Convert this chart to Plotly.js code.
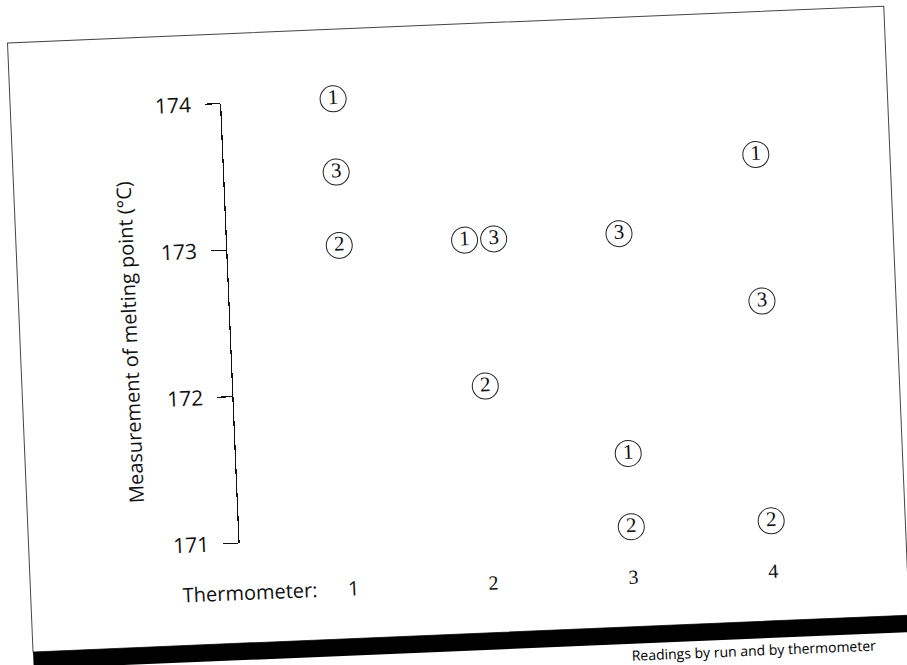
<!DOCTYPE html>
<html>
<head>
<meta charset="utf-8">
<script src="https://cdn.plot.ly/plotly-3.0.1.min.js"></script>
<style>
  html, body { margin:0; padding:0; background:#fff; overflow:hidden; width:907px; height:665px; }
  #plot { position:absolute; left:-27px; top:-28px; width:961px; height:721px; transform:rotate(-2.4deg); transform-origin:50% 50%; }
</style>
</head>
<body>
<div id="plot"></div>
<script>
// ---- data ----
const thermometers = [1, 2, 3, 4];
const thermometerLabels = ['1', '2', '3', '4'];
const runLabels = ['1', '2', '3'];
const run1 = [174.0, 173.0, 171.5, 173.5];
const run2 = [173.0, 172.0, 171.0, 171.0];
const run3 = [173.5, 173.0, 173.0, 172.5];
const yTicks = [171, 172, 173, 174];
const yTitle = 'Measurement of melting point (°C)';
const xLabel = 'Thermometer:';
const caption = 'Readings by run and by thermometer';

// ---- style constants ----
const SANS = 'Open Sans, sans-serif';
const SERIF = 'Liberation Serif, Times New Roman, serif';
const DODGE = 0.104; // horizontal spread for coincident values

const runs = [run1, run2, run3];

// dodge coincident values at the same thermometer
const offsets = runs.map(() => thermometers.map(() => 0));
thermometers.forEach((t, i) => {
  const groups = {};
  runs.forEach((r, k) => { (groups[r[i]] = groups[r[i]] || []).push(k); });
  Object.values(groups).forEach(ks => {
    if (ks.length > 1) ks.forEach((k, j) => { offsets[k][i] = (j - (ks.length - 1) / 2) * 2 * DODGE; });
  });
});

const traces = runs.map((r, k) => ({
  type: 'scatter',
  mode: 'markers+text',
  x: thermometers.map((t, i) => t + offsets[k][i]),
  y: r,
  text: thermometers.map(() => runLabels[k]),
  textposition: 'middle center',
  textfont: { family: SERIF, size: 21, color: '#111' },
  marker: { symbol: 'circle-open', size: 26, color: '#222', line: { width: 1 } },
  cliponaxis: false,
  showlegend: false,
  hoverinfo: 'skip'
}));

const layout = {
  width: 961, height: 721,
  margin: { l: 258, r: 59, t: 122, b: 159 },
  paper_bgcolor: '#fff', plot_bgcolor: '#fff',
  showlegend: false,
  xaxis: {
    range: [0.2, 4.8],
    tickvals: thermometers,
    ticktext: thermometerLabels.map((s, i) => i === 0 ? '<span style="font-family:Open Sans">' + s + '</span>' : s),
    tickfont: { family: SERIF, size: 20, color: '#111' },
    showline: false, showgrid: false, zeroline: false, ticks: '',
    ticklabelstandoff: 36
  },
  yaxis: {
    range: [171, 174],
    tickvals: yTicks,
    ticktext: yTicks.map(String),
    tickfont: { family: SANS, size: 21, color: '#111' },
    showline: true, linecolor: '#111', linewidth: 1.2,
    ticks: 'outside', ticklen: 15, tickwidth: 1.2, tickcolor: '#111',
    showgrid: false, zeroline: false,
    ticklabelstandoff: 10
  },
  shapes: [
    { type: 'rect', xref: 'paper', yref: 'paper', x0: -0.3276, x1: 1.0342, y0: -0.2273, y1: 1.158,
      line: { color: '#444', width: 1 }, fillcolor: 'rgba(0,0,0,0)' },
    { type: 'rect', xref: 'paper', yref: 'paper', x0: -0.3276, x1: 1.2, y0: -0.2659, y1: -0.2273,
      line: { width: 0 }, fillcolor: '#000' }
  ],
  annotations: [
    { text: yTitle, xref: 'paper', yref: 'paper', x: -0.157, y: 0.4666, textangle: -90,
      xanchor: 'center', yanchor: 'middle', showarrow: false,
      font: { family: SANS, size: 20, color: '#111' } },
    { text: xLabel, xref: 'paper', yref: 'paper', x: 0.121, y: -0.1125,
      xanchor: 'right', yanchor: 'middle', showarrow: false,
      font: { family: SANS, size: 20, color: '#111' } },
    { text: caption, xref: 'paper', yref: 'paper', x: 0.985, y: -0.266,
      xanchor: 'right', yanchor: 'top', showarrow: false,
      font: { family: SANS, size: 14, color: '#000' } }
  ]
};

Plotly.newPlot('plot', traces, layout, { staticPlot: true, displayModeBar: false });
</script>
</body>
</html>
